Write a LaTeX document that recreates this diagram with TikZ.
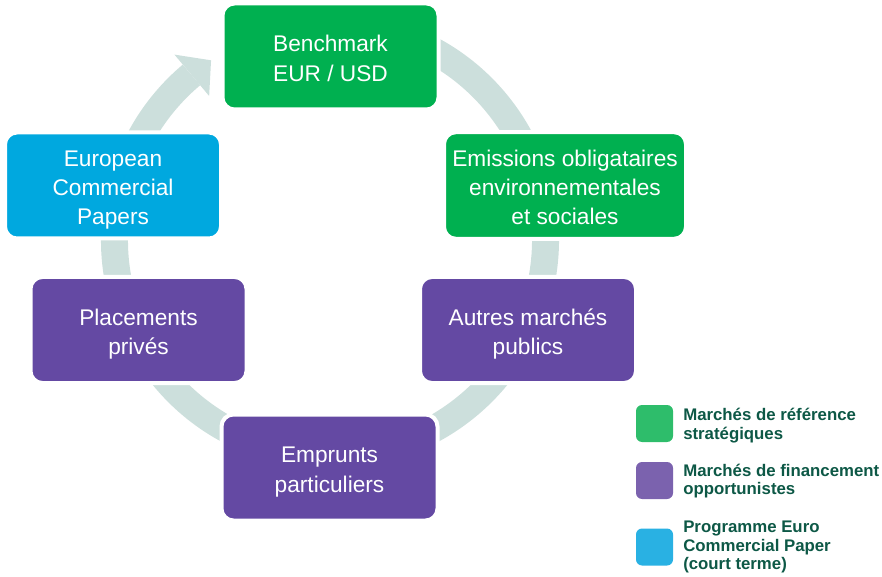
\documentclass[tikz,border=0pt]{standalone}
\usepackage{fontspec}
\setmainfont{Liberation Sans}
\usetikzlibrary{calc}
\definecolor{gr}{HTML}{00B050}
\definecolor{pu}{HTML}{6449A3}
\definecolor{bl}{HTML}{00A8DF}
\definecolor{ringc}{HTML}{CCDFDC}
\definecolor{lgr}{HTML}{2EBD6B}
\definecolor{lpu}{HTML}{7B62AE}
\definecolor{lbl}{HTML}{29B1E3}
\definecolor{ltx}{HTML}{0D5846}
\newcommand\tstr{\rule{0pt}{19pt}}
\newcommand\bstr{\rule[-4pt]{0pt}{4pt}}
\begin{document}
\begin{tikzpicture}[x=0.75pt,y=-0.75pt,
  box/.style={rounded corners=9pt, draw=white, line width=3pt, text=white,
    align=center, inner sep=0pt, minimum width=162pt, minimum height=79.5pt,
    font=\fontsize{17pt}{22pt}\selectfont},
  legbox/.style={rounded corners=4.5pt, minimum size=27.75pt, inner sep=0pt},
  legtext/.style={anchor=west, align=left, inner sep=0pt, text=ltx,
    font=\fontsize{12.6pt}{14pt}\selectfont\bfseries}]
\useasboundingbox (0,0) rectangle (882,577);
\coordinate (c) at (330,240);
% ring band with arrow head
\draw[ringc, line width=20.25pt] (c) ++(-80:215.5) arc[start angle=-80, end angle=230, radius=215.5];
\fill[ringc] ($(c)+(230:242)$) -- ($(c)+(236.5:215.5)$) -- ($(c)+(230:188)$) -- cycle;
% boxes
\node[box, fill=gr] (bench) at (330.5,56.5) {\tstr Benchmark\\EUR / USD\bstr};
\node[box, fill=gr, minimum width=181.5pt, minimum height=80pt] (emis) at (565,185.5) {\tstr Emissions obligataires\\environnementales\\et sociales\bstr};
\node[box, fill=pu] (autres) at (528,330) {\tstr Autres marchés\\publics\bstr};
\node[box, fill=pu] (empr) at (329.5,467.5) {\tstr Emprunts\\particuliers\bstr};
\node[box, fill=pu] (plac) at (138.5,330) {\tstr Placements\\privés\bstr};
\node[box, fill=bl] (ecp) at (113,185.5) {\tstr European\\Commercial\\Papers\bstr};
% legend
\node[legbox, fill=lgr] (k1) at (654.5,423.5) {};
\node[legbox, fill=lpu] (k2) at (654.5,480.5) {};
\node[legbox, fill=lbl] (k3) at (654.5,547) {};
\node[legtext] (t1) at (683,425.5) {Marchés de référence\\stratégiques};
\node[legtext] (t2) at (683,481) {Marchés de financement\\opportunistes};
\node[legtext] (t3) at (683,547) {Programme Euro\\Commercial Paper\\(court terme)};
\end{tikzpicture}
\end{document}
